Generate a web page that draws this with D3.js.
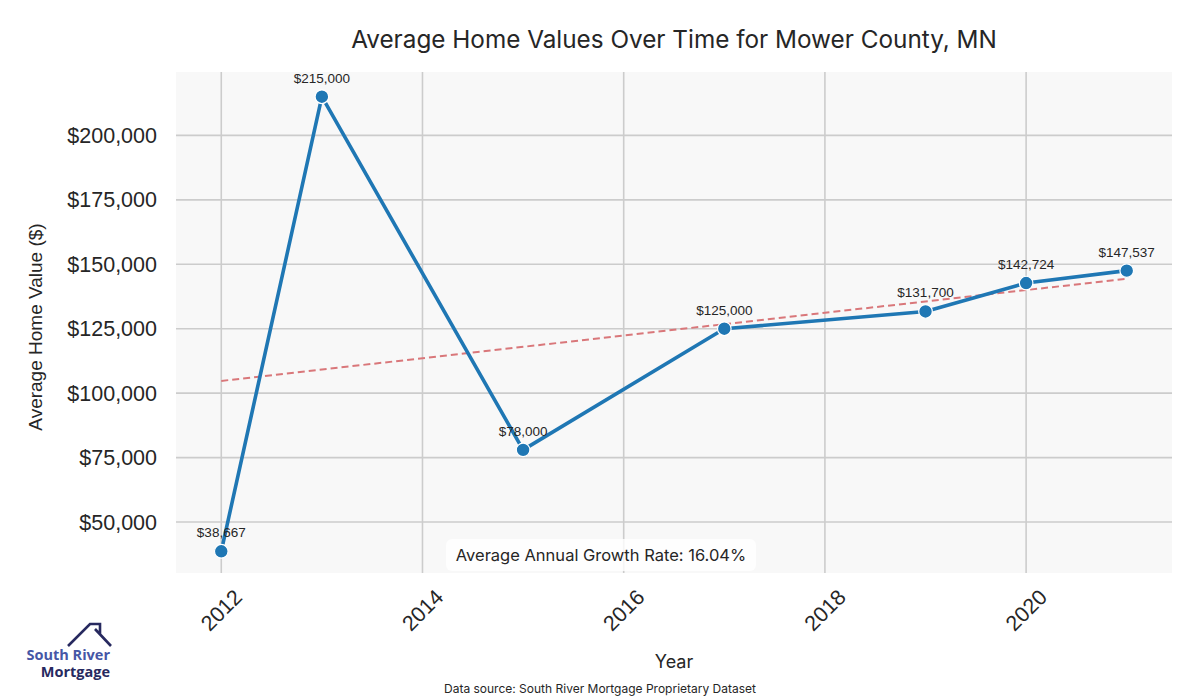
<!DOCTYPE html>
<html>
<head>
<meta charset="utf-8">
<script src="https://cdn.jsdelivr.net/npm/d3@7.9.0/dist/d3.min.js"></script>
<style>
  body { margin: 0; background: #fff; }
  svg { display: block; }
</style>
</head>
<body>
<svg id="chart" width="1200" height="700"></svg>
<script>
// data
const years = [2012, 2013, 2015, 2017, 2019, 2020, 2021];
const values = [38667, 215000, 78000, 125000, 131700, 142724, 147537];
const xTicks = [2012, 2014, 2016, 2018, 2020];
const yTicks = [50000, 75000, 100000, 125000, 150000, 175000, 200000];
const growthRate = '16.04%';

const svg = d3.select('#chart');
const plotL = 176, plotR = 1172, plotT = 74, plotB = 574;

// matplotlib style 5% padding
const xPad = (d3.max(years) - d3.min(years)) * 0.05;
const yPad = (d3.max(values) - d3.min(values)) * 0.05;

const x = d3.scaleLinear()
  .domain([d3.min(years) - xPad, d3.max(years) + xPad])
  .range([plotL, plotR]);
const y = d3.scaleLinear()
  .domain([d3.min(values) - yPad, d3.max(values) + yPad])
  .range([plotB, plotT]);

const sansJ = "Inter, 'Noto Sans', sans-serif";
const arial = "'Liberation Sans', Arial, sans-serif";

svg.append('rect')
  .attr('x', plotL).attr('y', plotT - 2)
  .attr('width', plotR - plotL).attr('height', plotB - plotT + 1)
  .attr('fill', '#f8f8f8');

// grid
svg.append('g').selectAll('line').data(xTicks).join('line')
  .attr('x1', d => x(d)).attr('x2', d => x(d))
  .attr('y1', plotT - 2).attr('y2', plotB - 1)
  .attr('stroke', '#cccccc').attr('stroke-width', 1.6);
svg.append('g').selectAll('line').data(yTicks).join('line')
  .attr('x1', plotL).attr('x2', plotR)
  .attr('y1', d => y(d)).attr('y2', d => y(d))
  .attr('stroke', '#cccccc').attr('stroke-width', 1.6);

// y tick labels
const fmt = d3.format('$,');
svg.append('g').selectAll('text').data(yTicks).join('text')
  .attr('x', 157).attr('y', d => y(d))
  .attr('dy', '0.35em')
  .attr('text-anchor', 'end')
  .attr('font-family', arial).attr('font-size', 21.5)
  .attr('fill', '#262626')
  .text(d => fmt(d));

// x tick labels rotated
svg.append('g').selectAll('text').data(xTicks).join('text')
  .attr('transform', d => `translate(${x(d)},${610}) rotate(-45)`)
  .attr('dy', '0.35em')
  .attr('text-anchor', 'middle')
  .attr('font-family', arial).attr('font-size', 21.5)
  .attr('fill', '#262626')
  .text(d => d);

// trend line (least squares over the data)
const mx = d3.mean(years), my = d3.mean(values);
const slope = d3.sum(years, (d, i) => (d - mx) * (values[i] - my)) /
  d3.sum(years, d => (d - mx) * (d - mx));
const trendYears = [d3.min(years), d3.max(years)];
svg.append('line')
  .attr('x1', x(trendYears[0])).attr('y1', y(my + slope * (trendYears[0] - mx)))
  .attr('x2', x(trendYears[1])).attr('y2', y(my + slope * (trendYears[1] - mx)))
  .attr('stroke', '#d9777a').attr('stroke-width', 2)
  .attr('stroke-dasharray', '7,4');

// main line
const line = d3.line().x((d, i) => x(years[i])).y(d => y(d));
svg.append('path')
  .datum(values)
  .attr('d', line)
  .attr('fill', 'none')
  .attr('stroke', '#1f77b4')
  .attr('stroke-width', 3.6)
  .attr('stroke-linejoin', 'round');

svg.append('g').selectAll('circle').data(values).join('circle')
  .attr('cx', (d, i) => x(years[i])).attr('cy', d => y(d))
  .attr('r', 6.8)
  .attr('fill', '#1f77b4')
  .attr('stroke', '#fff').attr('stroke-width', 1.2);

svg.append('g').selectAll('text').data(values).join('text')
  .attr('x', (d, i) => x(years[i])).attr('y', d => y(d) - 14)
  .attr('text-anchor', 'middle')
  .attr('font-family', arial).attr('font-size', 13.5)
  .attr('fill', '#262626')
  .text(d => fmt(d));

// growth rate box
const gb = svg.append('g').attr('transform', 'translate(601,555)');
gb.append('rect')
  .attr('x', -155).attr('y', -16).attr('width', 310).attr('height', 32)
  .attr('rx', 6)
  .attr('fill', '#ffffff').attr('fill-opacity', 0.8);
gb.append('text')
  .attr('text-anchor', 'middle').attr('dy', '0.35em')
  .attr('font-family', sansJ).attr('font-size', 16.5)
  .attr('fill', '#262626')
  .text(`Average Annual Growth Rate: ${growthRate}`);

// title and axis labels
svg.append('text')
  .attr('x', 674).attr('y', 48)
  .attr('text-anchor', 'middle')
  .attr('font-family', sansJ).attr('font-size', 24.3)
  .attr('fill', '#262626')
  .text('Average Home Values Over Time for Mower County, MN');

svg.append('text')
  .attr('transform', `translate(42,${(plotT + plotB) / 2 + 3}) rotate(-90)`)
  .attr('text-anchor', 'middle')
  .attr('font-family', arial).attr('font-size', 19)
  .attr('fill', '#262626')
  .text('Average Home Value ($)');

svg.append('text')
  .attr('x', 674).attr('y', 668)
  .attr('text-anchor', 'middle')
  .attr('font-family', sansJ).attr('font-size', 18)
  .attr('fill', '#262626')
  .text('Year');

svg.append('text')
  .attr('x', 600).attr('y', 693)
  .attr('text-anchor', 'middle')
  .attr('font-family', sansJ).attr('font-size', 12)
  .attr('fill', '#262626')
  .text('Data source: South River Mortgage Proprietary Dataset');

// logo
const logo = svg.append('g');
logo.append('path')
  .attr('d', 'M68,646 L90,624 L100,624 L100,634 M95,629 L111,646')
  .attr('fill', 'none')
  .attr('stroke', '#27295f').attr('stroke-width', 2.6)
  .attr('stroke-linejoin', 'miter');
logo.append('text')
  .attr('x', 110).attr('y', 660)
  .attr('text-anchor', 'end')
  .attr('font-family', "'Open Sans', sans-serif").attr('font-weight', 700)
  .attr('font-size', 14.5).attr('fill', '#4656a6')
  .text('South River');
logo.append('text')
  .attr('x', 110).attr('y', 677)
  .attr('text-anchor', 'end')
  .attr('font-family', "'Open Sans', sans-serif").attr('font-weight', 700)
  .attr('font-size', 14.5).attr('fill', '#27295f')
  .text('Mortgage');
</script>
</body>
</html>
